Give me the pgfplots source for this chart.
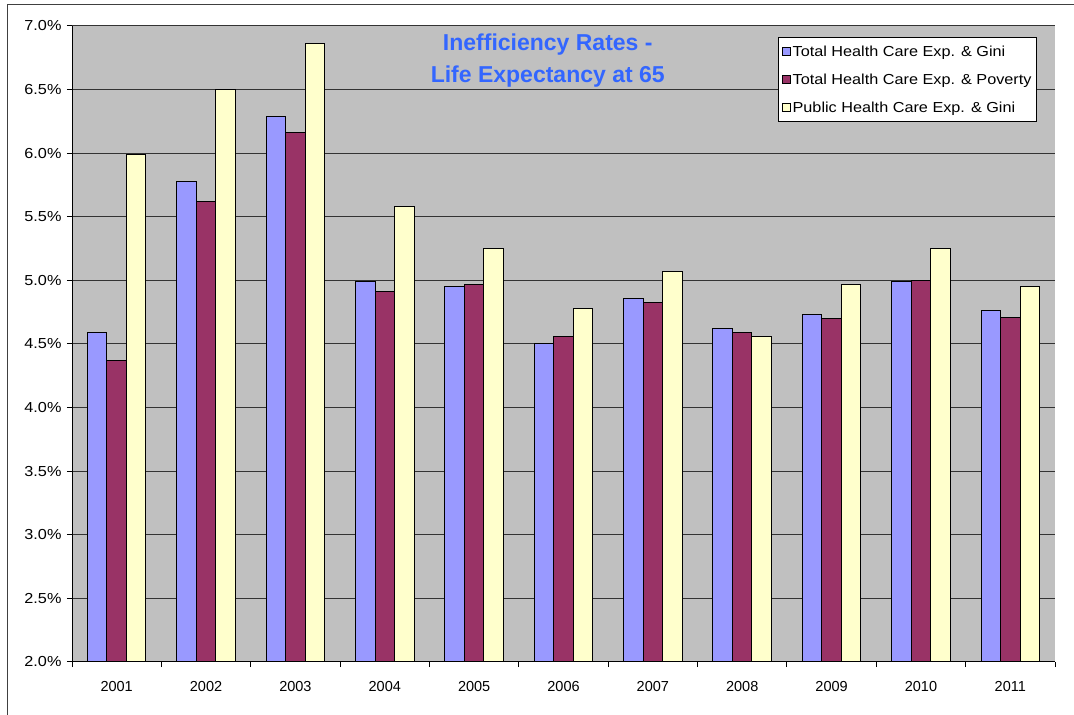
\documentclass[border=0pt]{standalone}
\usepackage{fontspec}
\setmainfont{Liberation Sans}
\newfontfamily\widefont{Liberation Sans}[FakeStretch=1.12]
\usepackage{pgfplots}
\pgfplotsset{compat=1.18}
\definecolor{bgc}{RGB}{192,192,192}
\definecolor{sA}{RGB}{153,153,255}
\definecolor{sB}{RGB}{153,51,102}
\definecolor{sC}{RGB}{255,255,204}
\definecolor{titleblue}{RGB}{51,102,255}
\begin{document}
\begin{tikzpicture}[x=1pt,y=1pt]
\begin{axis}[
  at={(72pt,53pt)}, anchor=south west,
  scale only axis, width=983pt, height=636pt,
  xmin=-0.5, xmax=10.5, ymin=2, ymax=7,
  ybar=0pt, bar width=19.5pt,
  axis background/.style={fill=bgc},
  axis x line*=bottom, axis y line*=left,
  axis line style={black, line width=1pt},
  tick align=outside, major tick length=5pt,
  tick style={black, line width=1pt},
  xtick={-0.5,0.5,...,10.5}, xticklabels={},
  extra x ticks={0,1,2,3,4,5,6,7,8,9,10},
  extra x tick labels={2001,2002,2003,2004,2005,2006,2007,2008,2009,2010,2011},
  extra x tick style={major tick length=0pt, xticklabel style={yshift=-16pt}},
  ytick={2,2.5,...,7},
  ymajorgrids, grid style={black!80, line width=1pt},
  /pgf/number format/assume math mode=true,
  yticklabel={\pgfmathprintnumber[fixed,fixed zerofill,precision=1]{\tick}\%},
  xticklabel style={font=\fontsize{14.5}{17}\selectfont},
  yticklabel style={font=\widefont\fontsize{14.5}{17}\selectfont, xshift=-2pt},
  legend cell align=left,
  legend style={at={(0.9817,0.9827)}, anchor=north east, draw=black, line width=1pt, fill=white,
    font=\widefont\fontsize{14.5}{17}\selectfont, row sep=12pt, inner xsep=3pt, inner ysep=6pt},
  legend image code/.code={\draw[#1, line width=0.8pt, draw=black] (0pt,-4pt) rectangle (8pt,4pt);},
  every axis plot/.append style={draw=black, line width=1pt},
  clip=false,
]
\addplot[fill=sA] coordinates {(0,4.59) (1,5.78) (2,6.29) (3,4.99) (4,4.95) (5,4.50) (6,4.86) (7,4.62) (8,4.73) (9,4.99) (10,4.76)};
\addplot[fill=sB] coordinates {(0,4.37) (1,5.62) (2,6.16) (3,4.91) (4,4.97) (5,4.56) (6,4.83) (7,4.59) (8,4.70) (9,5.00) (10,4.71)};
\addplot[fill=sC] coordinates {(0,5.99) (1,6.50) (2,6.86) (3,5.58) (4,5.25) (5,4.78) (6,5.07) (7,4.56) (8,4.97) (9,5.25) (10,4.95)};
\legend{Total Health Care Exp. \& Gini, Total Health Care Exp. \& Poverty, Public Health Care Exp. \& Gini}
\node[align=center, text=titleblue, font=\bfseries\fontsize{23}{32}\selectfont] at (rel axis cs:0.484,0.945) {Inefficiency Rates -\\Life Expectancy at 65};
\end{axis}
\draw[black!75, line width=1pt] (7pt,0pt) -- (7pt,710pt) -- (1074pt,710pt);
\pgfresetboundingbox
\path[use as bounding box] (0pt,0pt) rectangle (1074pt,715pt);
\end{tikzpicture}
\end{document}
